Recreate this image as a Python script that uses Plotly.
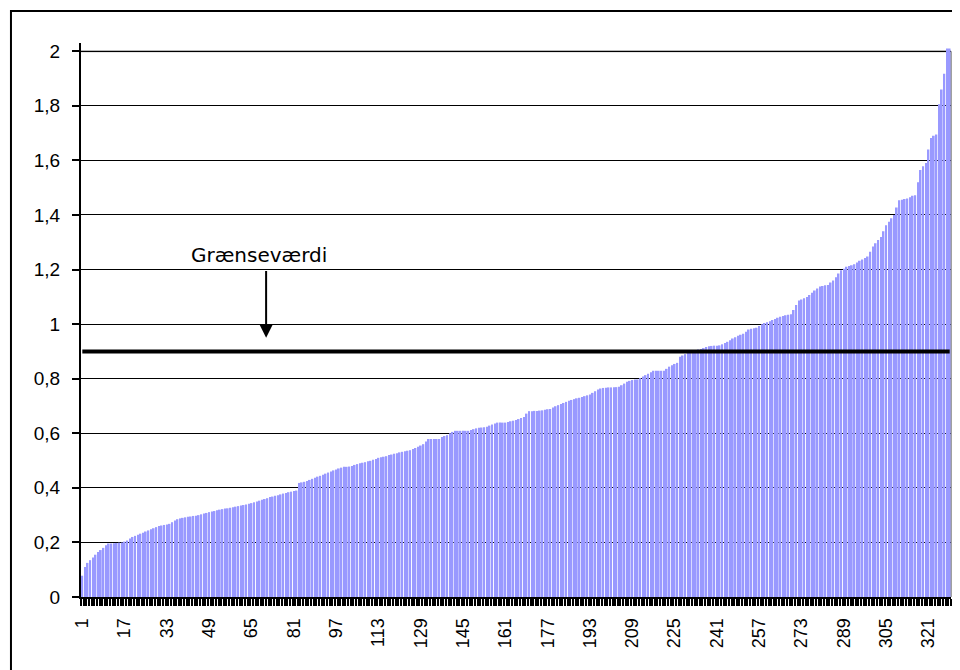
import plotly.graph_objects as go

# ---- data ----
values = [
    0.078, 0.11, 0.125, 0.135, 0.145, 0.155, 0.165, 0.172, 0.18, 0.19,
    0.196, 0.196, 0.197, 0.198, 0.199, 0.2, 0.203, 0.207, 0.214, 0.22,
    0.224, 0.228, 0.232, 0.235, 0.24, 0.244, 0.248, 0.252, 0.256, 0.26,
    0.262, 0.264, 0.266, 0.268, 0.274, 0.28, 0.285, 0.288, 0.29, 0.292,
    0.294, 0.295, 0.297, 0.298, 0.3, 0.303, 0.306, 0.308, 0.311, 0.313,
    0.315, 0.318, 0.32, 0.322, 0.324, 0.325, 0.327, 0.329, 0.331, 0.333,
    0.335, 0.337, 0.339, 0.342, 0.344, 0.347, 0.35, 0.353, 0.356, 0.359,
    0.362, 0.366, 0.368, 0.371, 0.373, 0.376, 0.379, 0.381, 0.384, 0.386,
    0.388, 0.39, 0.418, 0.42, 0.422, 0.425, 0.429, 0.433, 0.437, 0.441,
    0.444, 0.448, 0.452, 0.456, 0.46, 0.464, 0.467, 0.471, 0.474, 0.477,
    0.477, 0.478, 0.48, 0.484, 0.487, 0.49, 0.492, 0.494, 0.497, 0.499,
    0.503, 0.506, 0.51, 0.512, 0.514, 0.516, 0.52, 0.522, 0.525, 0.527,
    0.53, 0.532, 0.534, 0.536, 0.538, 0.542, 0.546, 0.551, 0.555, 0.56,
    0.57, 0.579, 0.579, 0.579, 0.579, 0.579, 0.586, 0.59, 0.593, 0.6,
    0.605, 0.609, 0.609, 0.609, 0.609, 0.609, 0.609, 0.612, 0.615, 0.618,
    0.62, 0.621, 0.622, 0.624, 0.628, 0.632, 0.636, 0.639, 0.639, 0.639,
    0.639, 0.641, 0.644, 0.646, 0.649, 0.652, 0.656, 0.66, 0.672, 0.681,
    0.681, 0.682, 0.682, 0.683, 0.684, 0.686, 0.688, 0.689, 0.694, 0.699,
    0.703, 0.707, 0.711, 0.715, 0.719, 0.722, 0.725, 0.728, 0.73, 0.733,
    0.736, 0.739, 0.742, 0.748, 0.754, 0.76, 0.764, 0.766, 0.767, 0.768,
    0.768, 0.769, 0.769, 0.77, 0.776, 0.782, 0.789, 0.792, 0.795, 0.797,
    0.797, 0.802, 0.808, 0.813, 0.818, 0.824, 0.829, 0.829, 0.829, 0.829,
    0.829, 0.836, 0.844, 0.849, 0.854, 0.858, 0.88, 0.885, 0.89, 0.895,
    0.9, 0.903, 0.905, 0.907, 0.909, 0.912, 0.916, 0.919, 0.92, 0.921,
    0.921, 0.922, 0.926, 0.931, 0.935, 0.941, 0.947, 0.952, 0.957, 0.961,
    0.965, 0.972, 0.98, 0.983, 0.985, 0.987, 0.993, 0.999, 1.004, 1.007,
    1.01, 1.015, 1.019, 1.023, 1.027, 1.03, 1.032, 1.034, 1.036, 1.052,
    1.07, 1.086, 1.09, 1.095, 1.099, 1.107, 1.115, 1.123, 1.13, 1.138,
    1.14, 1.142, 1.143, 1.152, 1.16, 1.172, 1.185, 1.197, 1.203, 1.21,
    1.213, 1.216, 1.219, 1.226, 1.232, 1.237, 1.242, 1.248, 1.265, 1.284,
    1.296, 1.308, 1.319, 1.34, 1.362, 1.375, 1.388, 1.4, 1.427, 1.454,
    1.456, 1.458, 1.46, 1.465, 1.47, 1.472, 1.52, 1.565, 1.578, 1.59,
    1.64, 1.682, 1.69, 1.695, 1.806, 1.86, 1.917, 2.01, 2.01,
]
bar_numbers = list(range(1, len(values) + 1))

threshold = 0.9
threshold_label = "Grænseværdi"

x_tick_vals = [1, 17, 33, 49, 65, 81, 97, 113, 129, 145, 161, 177, 193, 209,
               225, 241, 257, 273, 289, 305, 321]
x_tick_text = ["1", "17", "33", "49", "65", "81", "97", "113", "129", "145",
               "161", "177", "193", "209", "225", "241", "257", "273", "289",
               "305", "321"]
y_tick_vals = [0, 0.2, 0.4, 0.6, 0.8, 1.0, 1.2, 1.4, 1.6, 1.8, 2.0]
y_tick_text = ["0", "0,2", "0,4", "0,6", "0,8", "1", "1,2", "1,4", "1,6", "1,8", "2"]

FONT = "Liberation Sans, Arial, sans-serif"

fig = go.Figure()
fig.add_trace(go.Bar(
    x=bar_numbers, y=values,
    marker=dict(color="#9999FF", line=dict(width=0)),
    hoverinfo="skip",
))
fig.add_trace(go.Scatter(
    x=[bar_numbers[0], bar_numbers[-1]], y=[threshold, threshold],
    mode="lines", line=dict(color="black", width=4),
    hoverinfo="skip",
))

x_first, x_last = bar_numbers[0] - 0.5, bar_numbers[-1] + 0.5

# The page body has an 8px margin, so the figure is 952x662 and shifted accordingly
fig.update_layout(
    width=952, height=662,
    margin=dict(l=73, r=9, t=35, b=73),
    paper_bgcolor="white", plot_bgcolor="white",
    showlegend=False, bargap=0.36,
    font=dict(family=FONT, color="black"),
    xaxis=dict(
        range=[x_first, x_last],
        tickmode="array", tickvals=x_tick_vals, ticktext=x_tick_text,
        tickangle=-90, ticks="", tickfont=dict(size=18, family=FONT),
        showgrid=False, zeroline=False,
        showline=True, linecolor="black", linewidth=2,
        ticklabelstandoff=12,
        minor=dict(ticks="outside", tickmode="linear", tick0=0.5, dtick=1,
                   ticklen=7, tickwidth=2, tickcolor="black", showgrid=False),
    ),
    yaxis=dict(
        range=[0, 2.03],
        tickmode="array", tickvals=y_tick_vals, ticktext=y_tick_text,
        ticks="outside", ticklen=7, tickwidth=2, tickcolor="black",
        tickfont=dict(size=19, family=FONT),
        showgrid=True, gridcolor="black", gridwidth=1,
        zeroline=False,
        showline=True, linecolor="black", linewidth=2,
        ticklabelstandoff=8,
    ),
    shapes=[
        # grey plot-area border (top at value 2, right edge)
        dict(type="line", xref="paper", yref="y", x0=0, x1=1, y0=2, y1=2,
             line=dict(color="#A0A0A0", width=2), layer="below"),
        dict(type="line", xref="paper", yref="y", x0=1, x1=1, y0=0, y1=2,
             line=dict(color="#A0A0A0", width=2), layer="below"),
        # outer chart frame
        dict(type="rect", xref="paper", yref="paper",
             x0=-0.0805, x1=1.05, y0=-0.3, y1=1.0578,
             line=dict(color="black", width=2), fillcolor="rgba(0,0,0,0)"),
    ],
    annotations=[
        dict(x=70.5, y=0.95, xref="x", yref="y", ax=70.5, ay=1.2,
             axref="x", ayref="y", text="", showarrow=True,
             arrowhead=2, arrowsize=1.3, arrowwidth=2, arrowcolor="black"),
        dict(x=67.8, y=1.253, xref="x", yref="y", text=threshold_label,
             showarrow=False, xanchor="center", yanchor="middle",
             font=dict(family="DejaVu Sans, sans-serif", size=20, color="black")),
    ],
)

fig.write_html("out.html")
